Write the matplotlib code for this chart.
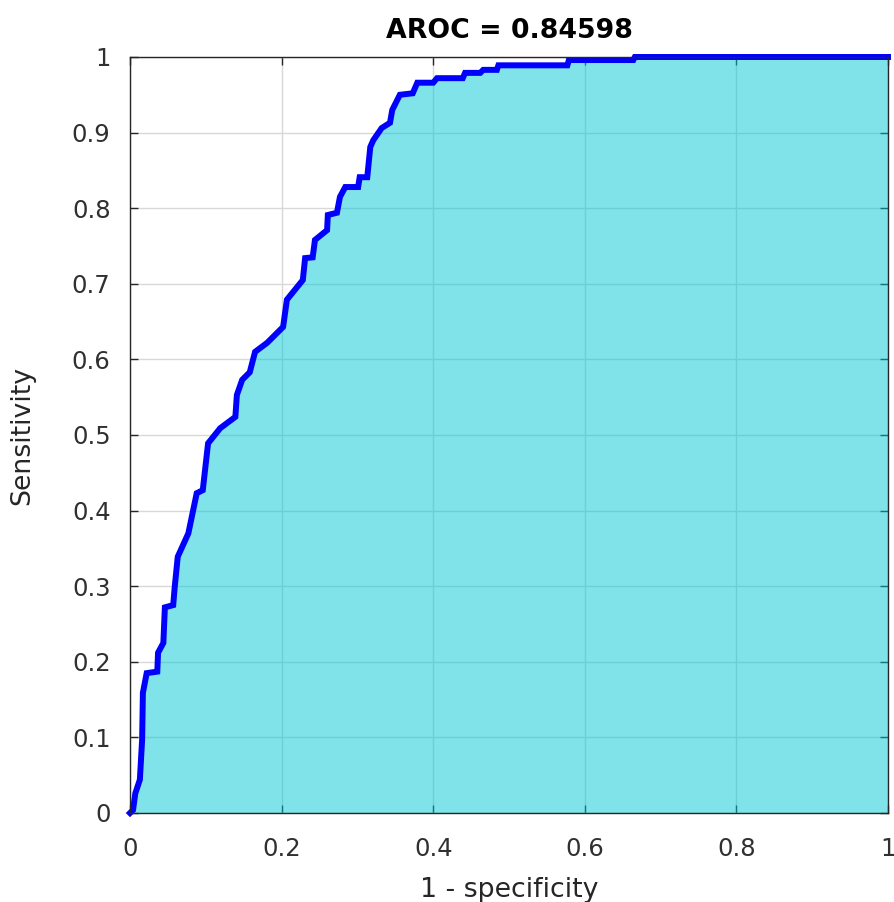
import matplotlib
matplotlib.use("Agg")
import matplotlib.pyplot as plt

fpr = [0.0, 0.004, 0.007, 0.013, 0.016, 0.017, 0.022, 0.036, 0.037, 0.044, 0.046,
       0.057, 0.059, 0.063, 0.077, 0.088, 0.096, 0.103, 0.119, 0.139, 0.141, 0.148,
       0.158, 0.165, 0.181, 0.202, 0.207, 0.228, 0.231, 0.241, 0.244, 0.260, 0.261,
       0.273, 0.277, 0.284, 0.301, 0.303, 0.313, 0.317, 0.321, 0.332, 0.343, 0.346,
       0.356, 0.373, 0.379, 0.400, 0.405, 0.439, 0.442, 0.462, 0.466, 0.484, 0.486,
       0.577, 0.579, 0.664, 0.666, 1.0]
tpr = [0.0, 0.004, 0.026, 0.044, 0.097, 0.159, 0.185, 0.187, 0.212, 0.225, 0.272,
       0.275, 0.299, 0.339, 0.370, 0.423, 0.427, 0.489, 0.509, 0.524, 0.553, 0.573,
       0.583, 0.610, 0.622, 0.643, 0.679, 0.705, 0.734, 0.735, 0.758, 0.771, 0.791,
       0.794, 0.815, 0.828, 0.828, 0.841, 0.841, 0.881, 0.890, 0.906, 0.913, 0.930,
       0.950, 0.952, 0.966, 0.966, 0.972, 0.972, 0.979, 0.979, 0.983, 0.983, 0.989,
       0.989, 0.996, 0.996, 1.0, 1.0]
title_text = "AROC = 0.84598"
x_ticks = [0, 0.2, 0.4, 0.6, 0.8, 1]
x_tick_labels = ["0", "0.2", "0.4", "0.6", "0.8", "1"]
y_ticks = [0, 0.1, 0.2, 0.3, 0.4, 0.5, 0.6, 0.7, 0.8, 0.9, 1]
y_tick_labels = ["0", "0.1", "0.2", "0.3", "0.4", "0.5", "0.6", "0.7", "0.8", "0.9", "1"]

plt.rcParams['font.family'] = ['DejaVu Sans']
fig = plt.figure(figsize=(8.94, 9.02), dpi=100)
ax = fig.add_axes([130/894, 89/902, 758/894, 756/902])

ax.grid(True, color='#d8d8d8', linewidth=1.0, zorder=0)
ax.set_axisbelow(True)
ax.fill_between(fpr, tpr, 0, color=(0.0, 0.79, 0.83), alpha=0.5, linewidth=0, zorder=1)
ax.plot(fpr, tpr, color=(0, 0, 1), linewidth=4.3, zorder=3, solid_joinstyle='miter', clip_on=False)

ax.set_xlim(0, 1)
ax.set_ylim(0, 1)
ax.set_xticks(x_ticks)
ax.set_xticklabels(x_tick_labels)
ax.set_yticks(y_ticks)
ax.set_yticklabels(y_tick_labels)
ax.tick_params(direction='in', length=6, width=1, colors='#262626', labelsize=17.5,
               top=True, right=True)
ax.tick_params(axis='x', pad=17)
ax.tick_params(axis='y', pad=14)
for lab in ax.get_xticklabels() + ax.get_yticklabels():
    lab.set_color('#303030')
for s in ax.spines.values():
    s.set_color('#262626')
    s.set_linewidth(1.0)
    s.set_zorder(4)

ax.set_xlabel("1 - specificity", fontsize=19.25, color='#262626', labelpad=12)
ax.set_ylabel("Sensitivity", fontsize=19.25, color='#262626', labelpad=26)
ax.set_title(title_text, fontsize=19.25, fontweight='bold', color='black', pad=14)

fig.savefig("out.png", dpi=100)
